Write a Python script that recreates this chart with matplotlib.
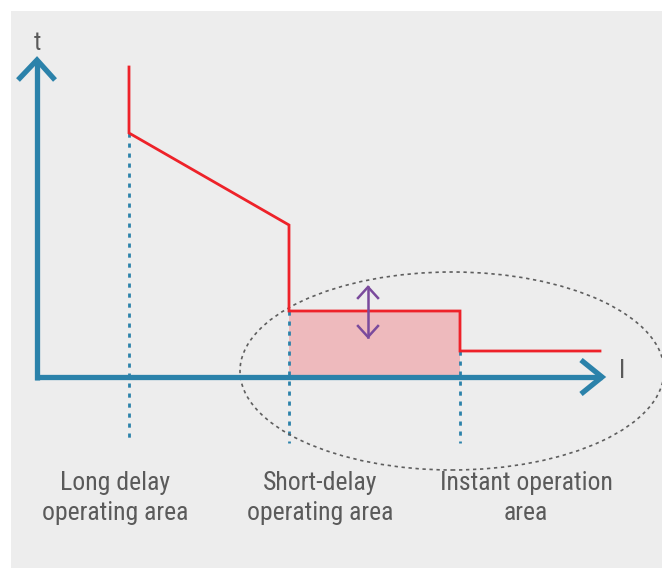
import matplotlib
matplotlib.use("Agg")
import matplotlib.pyplot as plt
from matplotlib.patches import Ellipse, Rectangle
from matplotlib import font_manager

# ---- data (diagram units: current I to the right, time t upward) ----
curve_I = [92, 92, 252, 252, 423, 423, 563]
curve_t = [310, 244, 152, 66, 66, 26, 26]
short_delay_I = [252, 423]
short_delay_t = 66
boundary_I = [92, 252, 423]
boundary_t_top = [244, 66, 26]
boundary_t_bottom = -66
adjust_I = 331
adjust_t = [90, 40]
labels = ["Long delay\noperating area", "Short-delay\noperating area", "Instant operation\narea"]
label_I = [78, 283, 489]
axis_I_max = 565
axis_t_max = 317

fams = set(f.name for f in font_manager.fontManager.ttflist)
fam = "DejaVu Sans"
for cand in ["Roboto Condensed", "Liberation Sans Narrow", "Roboto"]:
    if cand in fams:
        fam = cand
        break

fig = plt.figure(figsize=(6.62, 5.69), dpi=100)
fig.patch.set_facecolor("white")
ax = fig.add_axes([0, 0, 1, 1])
ax.set_xlim(-37, 625)
ax.set_ylim(-192, 377)
ax.axis("off")

# background panel
ax.add_patch(Rectangle((-26, -191), 651, 557, facecolor="#EDEDED", edgecolor="none", zorder=0))

blue = "#2B82AA"
red = "#EE2229"
gray_txt = "#5A5A5A"

# shaded short delay area
ax.fill_between(short_delay_I, 0, short_delay_t, color="#EEBABD", lw=0, zorder=1)

# dotted boundaries
for xi, yt in zip(boundary_I, boundary_t_top):
    ax.plot([xi, xi], [yt, boundary_t_bottom], color=blue, lw=2.0,
            linestyle=(0, (1.5, 2.1)), zorder=2)

# ellipse
ax.add_patch(Ellipse((415, 6), 424, 198, fill=False, edgecolor="#5E5E5E",
                     lw=1.2, linestyle=(0, (2.0, 2.2)), zorder=2))

# axes
ax.plot([0, 0], [-3, axis_t_max], color=blue, lw=3.8, solid_capstyle="butt", zorder=3)
ax.plot([-2, axis_I_max], [0, 0], color=blue, lw=3.8, solid_capstyle="butt", zorder=3)
ax.plot([-19, 0, 18], [axis_t_max - 20, axis_t_max, axis_t_max - 20], color=blue, lw=3.8,
        solid_joinstyle="miter", solid_capstyle="butt", zorder=3)
ax.plot([axis_I_max - 21, axis_I_max, axis_I_max - 21], [17, 0, -17], color=blue, lw=3.8,
        solid_joinstyle="miter", solid_capstyle="butt", zorder=3)

# curve
ax.plot(curve_I, curve_t, color=red, lw=2.0, solid_joinstyle="miter", zorder=4)

# adjustment arrow
purple = "#7A4A9C"
ax.plot([adjust_I, adjust_I], adjust_t, color=purple, lw=1.8, zorder=5)
ax.plot([adjust_I - 10, adjust_I, adjust_I + 10], [adjust_t[0] - 11, adjust_t[0], adjust_t[0] - 11],
        color=purple, lw=1.8, solid_joinstyle="miter", zorder=5)
ax.plot([adjust_I - 10, adjust_I, adjust_I + 10], [adjust_t[1] + 11, adjust_t[1], adjust_t[1] + 11],
        color=purple, lw=1.8, solid_joinstyle="miter", zorder=5)

# axis labels
ax.text(0, 334, "t", fontsize=18, color=gray_txt, ha="center", va="center", family=fam)
ax.text(585, 6, "I", fontsize=18, color=gray_txt, ha="center", va="center", family=fam)

for lx, lab in zip(label_I, labels):
    ax.text(lx, -121, lab, fontsize=18.5, color=gray_txt, ha="center", va="center",
            family=fam, linespacing=1.33)

fig.savefig("out.png", dpi=100, facecolor=fig.get_facecolor())
